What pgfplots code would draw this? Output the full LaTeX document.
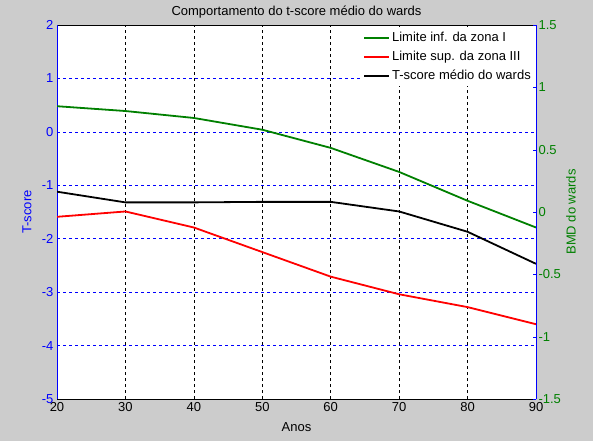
\documentclass[border=0pt]{standalone}
\usepackage{fontspec}
\setmainfont{Liberation Sans}
\usepackage{pgfplots}
\pgfplotsset{compat=1.18}
\definecolor{mgreen}{RGB}{0,128,0}
\definecolor{mgray}{RGB}{204,204,204}
\pgfplotsset{
  mylegimg/.style={legend image code/.code={\draw[##1, line width=2pt] (0pt,0pt) -- (25pt,0pt);}},
}
\begin{document}
\begin{tikzpicture}[x=1pt,y=1pt,font=\fontsize{13}{15}\selectfont]
\fill[mgray] (0,0) rectangle (593,441);
\begin{axis}[
  at={(57pt,42pt)}, anchor=south west,
  scale only axis, width=479pt, height=374pt,
  xmin=20, xmax=90, ymin=-5, ymax=2,
  axis background/.style={fill=white},
  separate axis lines,
  x axis line style={black, line width=0.8pt},
  y axis line style={blue, line width=0.8pt},
  xtick={20,30,...,90}, xticklabels={20,30,40,50,60,70,80,90},
  ytick={-5,-4,...,2}, yticklabels={-5,-4,-3,-2,-1,0,1,2},
  major tick length=0pt,
  yticklabel style={blue},
  xticklabel style={black},
  grid=major,
  x grid style={black, dash pattern=on 3pt off 3pt, line width=0.6pt},
  y grid style={blue, dash pattern=on 3pt off 3pt, line width=0.6pt},
  title={Comportamento do t-score médio do wards},
  title style={at={(0.5,1)}, anchor=base, yshift=4pt, inner sep=0pt},
  xlabel={Anos},
  xlabel style={at={(axis description cs:0.5,0)}, anchor=base, yshift=-32pt, inner sep=0pt},
  ylabel={T-score},
  ylabel style={blue, at={(axis description cs:0,0.5)}, anchor=center, yshift=30pt, inner sep=0pt},
  legend style={at={(1,1)}, anchor=north east, yshift=-2pt, draw=none, fill=white,
    font=\fontsize{13}{15}\selectfont, row sep=4pt, inner sep=3pt,
    cells={anchor=west}},
  mylegimg,
]
\addplot[mgreen, line width=1.8pt] coordinates {
  (20,0.48) (30,0.39) (40,0.26) (50,0.04) (60,-0.30) (70,-0.75) (80,-1.29) (90,-1.79)};
\addlegendentry{Limite inf. da zona I}
\addplot[red, line width=1.8pt] coordinates {
  (20,-1.59) (30,-1.49) (40,-1.79) (50,-2.25) (60,-2.71) (70,-3.04) (80,-3.28) (90,-3.60)};
\addlegendentry{Limite sup. da zona III}
\addplot[black, line width=1.8pt] coordinates {
  (20,-1.12) (30,-1.32) (40,-1.32) (50,-1.31) (60,-1.31) (70,-1.49) (80,-1.87) (90,-2.47)};
\addlegendentry{T-score médio do wards}
\end{axis}
\begin{axis}[
  at={(57pt,42pt)}, anchor=south west,
  scale only axis, width=479pt, height=374pt,
  xmin=20, xmax=90, ymin=-1.5, ymax=1.5,
  axis x line=none, axis y line*=right,
  y axis line style={blue, line width=0.8pt},
  ytick={-1.5,-1,-0.5,0,0.5,1,1.5}, yticklabels={-1.5,-1,-0.5,0,0.5,1,1.5},
  yticklabel style={mgreen, xshift=-1pt},
  tick style={blue}, major tick length=3pt, tick align=inside,
  ylabel={BMD do wards},
  ylabel style={mgreen, at={(axis description cs:1,0.5)}, anchor=center, yshift=-35pt, inner sep=0pt},
]
\end{axis}
\end{tikzpicture}
\end{document}
